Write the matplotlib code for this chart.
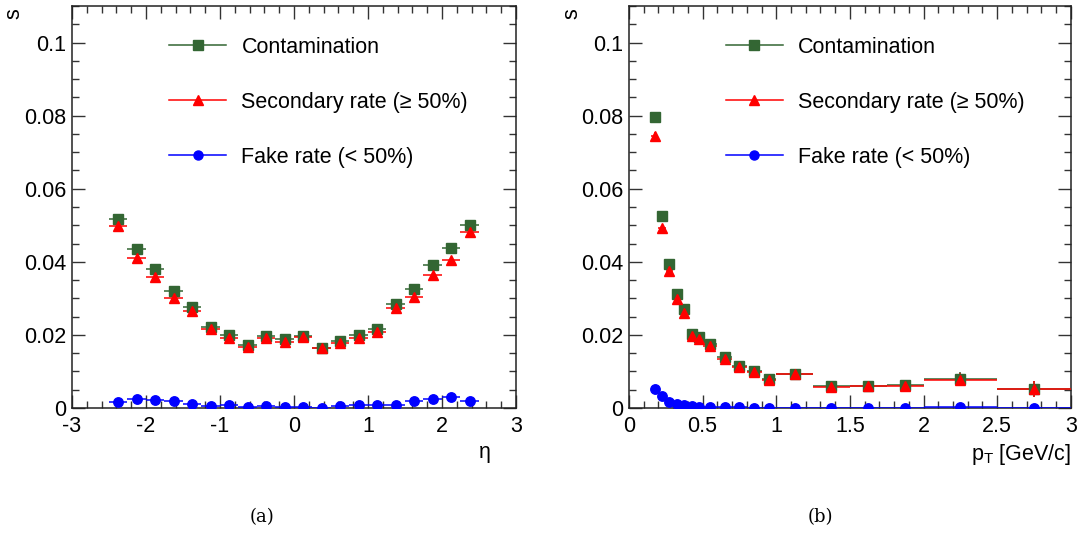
import numpy as np
import matplotlib
matplotlib.use("Agg")
import matplotlib.pyplot as plt
from matplotlib.lines import Line2D
from matplotlib.ticker import MultipleLocator, FuncFormatter

plt.rcParams['font.family'] = ['Liberation Sans', 'DejaVu Sans']
plt.rcParams['mathtext.fontset'] = 'custom'
plt.rcParams['mathtext.rm'] = 'Liberation Sans'
plt.rcParams['mathtext.it'] = 'Liberation Sans:italic'
plt.rcParams['axes.unicode_minus'] = False

# eta panel
eta_edges = np.arange(-2.5, 2.51, 0.25)
eta_contam = [0.0516, 0.0435, 0.0380, 0.0321, 0.0276, 0.0223, 0.0199, 0.0173, 0.0198, 0.0188,
              0.0197, 0.0165, 0.0184, 0.0200, 0.0217, 0.0284, 0.0325, 0.0391, 0.0437, 0.0500]
eta_second = [0.0498, 0.0410, 0.0358, 0.0301, 0.0265, 0.0216, 0.0191, 0.0168, 0.0191, 0.0182,
              0.0194, 0.0163, 0.0178, 0.0191, 0.0207, 0.0274, 0.0305, 0.0364, 0.0405, 0.0481]
eta_fake = [0.0016, 0.0026, 0.0022, 0.0019, 0.0011, 0.0005, 0.0007, 0.0004, 0.0005, 0.0004,
            0.0002, 0.0001, 0.0005, 0.0007, 0.0007, 0.0009, 0.0018, 0.0024, 0.0030, 0.0018]
eta_err = [0.0009, 0.0008, 0.0007, 0.0006, 0.0005, 0.0004, 0.0004, 0.0003, 0.0004, 0.0004,
           0.0004, 0.0003, 0.0004, 0.0004, 0.0004, 0.0005, 0.0006, 0.0007, 0.0008, 0.0009]

# pT panel
pt_edges = [0.15, 0.2, 0.25, 0.3, 0.35, 0.4, 0.45, 0.5, 0.6, 0.7, 0.8, 0.9, 1.0,
            1.25, 1.5, 1.75, 2.0, 2.5, 3.0]
pt_contam = [0.0797, 0.0526, 0.0393, 0.0312, 0.0271, 0.0203, 0.0193, 0.0174, 0.0139,
             0.0116, 0.0101, 0.0080, 0.0094, 0.0061, 0.0061, 0.0064, 0.0080, 0.0053]
pt_second = [0.0744, 0.0492, 0.0376, 0.0298, 0.0259, 0.0197, 0.0190, 0.0171, 0.0135,
             0.0113, 0.0099, 0.0078, 0.0092, 0.0058, 0.0059, 0.0061, 0.0077, 0.0051]
pt_fake = [0.0051, 0.0033, 0.0016, 0.0012, 0.0008, 0.0005, 0.0003, 0.0003, 0.0002,
           0.0002, 0.0001, 0.0001, 0.0001, 0.0001, 0.0001, 0.0001, 0.0004, 0.0001]
pt_err = [0.0012, 0.0008, 0.0006, 0.0005, 0.0005, 0.0004, 0.0004, 0.0003, 0.0003,
          0.0003, 0.0003, 0.0003, 0.0004, 0.0004, 0.0005, 0.0012, 0.0018, 0.0022]

labels = ['Contamination', 'Secondary rate (\u2265 50%)', 'Fake rate (< 50%)']
colors = ['#336633', '#ff0000', '#0000ff']
markers = ['s', '^', 'o']

fig = plt.figure(figsize=(10.82, 5.33), dpi=100)
ax1 = fig.add_axes([0.0665, 0.2345, 0.4104, 0.7542])
ax2 = fig.add_axes([0.5813, 0.2345, 0.4084, 0.7542])


def draw(ax, edges, series, errs):
    edges = np.asarray(edges)
    x = 0.5 * (edges[1:] + edges[:-1])
    xe = 0.5 * (edges[1:] - edges[:-1])
    for y, c, m in zip(series, colors, markers):
        y = np.asarray(y)
        e = np.asarray(errs) if c != '#0000ff' else np.asarray(errs) * 0.3
        ax.errorbar(x, y, xerr=xe, yerr=e, fmt=m, color=c, ms=6.8 if m != '^' else 7.2,
                    elinewidth=1.1, capsize=0, zorder=3)


draw(ax1, eta_edges, [eta_contam, eta_second, eta_fake], eta_err)
draw(ax2, pt_edges, [pt_contam, pt_second, pt_fake], pt_err)

fmt = FuncFormatter(lambda v, p: '%g' % round(v, 4))
for ax in (ax1, ax2):
    ax.set_ylim(0, 0.11)
    ax.yaxis.set_major_locator(MultipleLocator(0.02))
    ax.yaxis.set_minor_locator(MultipleLocator(0.005))
    ax.yaxis.set_major_formatter(fmt)
    ax.xaxis.set_major_formatter(fmt)
    ax.tick_params(which='both', direction='in', top=True, right=True, labelsize=15.5,
                   width=1.0, color='#333333')
    ax.tick_params(which='major', length=9.5, pad=4)
    ax.tick_params(axis='x', which='major', pad=6)
    ax.tick_params(which='minor', length=4.7)
    for s in ax.spines.values():
        s.set_linewidth(1.1)
        s.set_color('#222222')
    ax.text(-0.13, 0.995, 's', transform=ax.transAxes, rotation=90, fontsize=15.5,
            ha='center', va='top')
    handles = [Line2D([], [], color=c, marker=m, ms=6.5, lw=1.1) for c, m in zip(colors, markers)]
    ax.legend(handles, labels, loc='upper left', bbox_to_anchor=(0.2, 0.945), frameon=False,
              fontsize=15.5, handlelength=2.65, handletextpad=0.7, labelspacing=1.58,
              borderaxespad=0)

ax1.set_xlim(-3, 3)
ax1.xaxis.set_major_locator(MultipleLocator(1))
ax1.xaxis.set_minor_locator(MultipleLocator(0.2))
ax1.text(0.93, -0.085, '\u03b7', transform=ax1.transAxes, fontsize=15.5, ha='center', va='top')

ax2.set_xlim(0, 3)
ax2.xaxis.set_major_locator(MultipleLocator(0.5))
ax2.xaxis.set_minor_locator(MultipleLocator(0.1))
ax2.text(1.0, -0.085, r'p$_{\rm T}$ [GeV/c]', transform=ax2.transAxes, fontsize=15.5,
         ha='right', va='top')

fig.text(0.242, 0.03, '(a)', fontsize=13, family='DejaVu Serif', ha='center', va='center')
fig.text(0.758, 0.03, '(b)', fontsize=13, family='DejaVu Serif', ha='center', va='center')

fig.savefig('out.png', dpi=100)
